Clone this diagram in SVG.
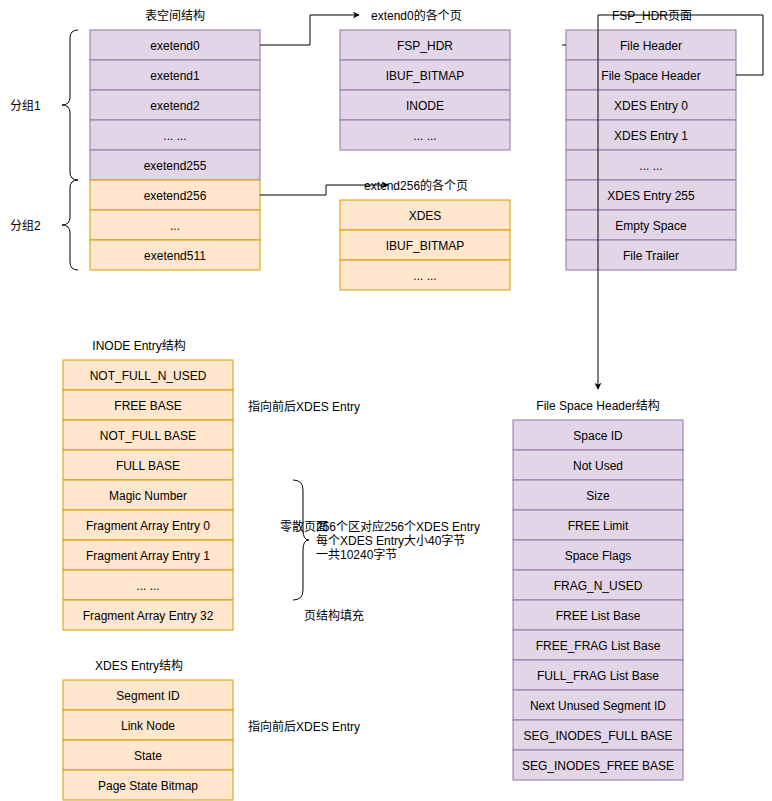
<svg xmlns="http://www.w3.org/2000/svg" width="772" height="801" viewBox="0 0 772 801">
<defs>
<marker id="arr" viewBox="0 0 10 10" refX="9" refY="5" markerWidth="7" markerHeight="7" markerUnits="userSpaceOnUse" orient="auto">
<path d="M0,0 L10,5 L0,10 L3,5 Z" fill="#000"/>
</marker>
<style>
text{font-family:"Liberation Sans",Arial,"Noto Sans CJK SC",sans-serif;font-size:12px;fill:#000}
.c{text-anchor:middle}
.p{fill:#e1d5e7;stroke:#9673a6;stroke-width:1}
.o{fill:#ffe6cc;stroke:#d79b00;stroke-width:1}
.ln{fill:none;stroke:#000;stroke-width:1}
</style>
</defs>
<rect width="772" height="801" fill="#fff"/>

<g id="tablespace">
<text class="c" x="175" y="20">表空间结构</text>
<rect class="p" x="90" y="30" width="170" height="30"/><text class="c" x="175" y="50">exetend0</text>
<rect class="p" x="90" y="60" width="170" height="30"/><text class="c" x="175" y="80">exetend1</text>
<rect class="p" x="90" y="90" width="170" height="30"/><text class="c" x="175" y="110">exetend2</text>
<rect class="p" x="90" y="120" width="170" height="30"/><text class="c" x="175" y="140">... ...</text>
<rect class="p" x="90" y="150" width="170" height="30"/><text class="c" x="175" y="170">exetend255</text>
<rect class="o" x="90" y="180" width="170" height="30"/><text class="c" x="175" y="200">exetend256</text>
<rect class="o" x="90" y="210" width="170" height="30"/><text class="c" x="175" y="230">...</text>
<rect class="o" x="90" y="240" width="170" height="30"/><text class="c" x="175" y="260">exetend511</text>
</g>

<g id="groups">
<path class="ln" d="M78,30 Q70,30 70,38 L70,97 Q70,105 62,105 Q70,105 70,113 L70,172 Q70,180 78,180"/>
<text x="10" y="110">分组1</text>
<path class="ln" d="M78,180 Q70,180 70,188 L70,217 Q70,225 62,225 Q70,225 70,233 L70,262 Q70,270 78,270"/>
<text x="10" y="230">分组2</text>
</g>

<g id="extend0">
<text x="371" y="20">extend0的各个页</text>
<rect class="p" x="340" y="30" width="170" height="30"/><text class="c" x="425" y="50">FSP_HDR</text>
<rect class="p" x="340" y="60" width="170" height="30"/><text class="c" x="425" y="80">IBUF_BITMAP</text>
<rect class="p" x="340" y="90" width="170" height="30"/><text class="c" x="425" y="110">INODE</text>
<rect class="p" x="340" y="120" width="170" height="30"/><text class="c" x="425" y="140">... ...</text>
</g>

<g id="extend256">
<rect class="o" x="340" y="200" width="170" height="30"/><text class="c" x="425" y="220">XDES</text>
<rect class="o" x="340" y="230" width="170" height="30"/><text class="c" x="425" y="250">IBUF_BITMAP</text>
<rect class="o" x="340" y="260" width="170" height="30"/><text class="c" x="425" y="280">... ...</text>
</g>

<g id="fsphdr">
<rect class="p" x="566" y="30" width="170" height="30"/><text class="c" x="651" y="50">File Header</text>
<rect class="p" x="566" y="60" width="170" height="30"/><text class="c" x="651" y="80">File Space Header</text>
<rect class="p" x="566" y="90" width="170" height="30"/><text class="c" x="651" y="110">XDES Entry 0</text>
<rect class="p" x="566" y="120" width="170" height="30"/><text class="c" x="651" y="140">XDES Entry 1</text>
<rect class="p" x="566" y="150" width="170" height="30"/><text class="c" x="651" y="170">... ...</text>
<rect class="p" x="566" y="180" width="170" height="30"/><text class="c" x="651" y="200">XDES Entry 255</text>
<rect class="p" x="566" y="210" width="170" height="30"/><text class="c" x="651" y="230">Empty Space</text>
<rect class="p" x="566" y="240" width="170" height="30"/><text class="c" x="651" y="260">File Trailer</text>
</g>

<g id="connectors">
<polyline class="ln" points="260,45 310,45 310,15 359,15" marker-end="url(#arr)"/>
<polyline class="ln" points="260,195 326,195 326,185 388,185" marker-end="url(#arr)"/>
<polyline class="ln" points="736,75 763,75 763,15 598,15 598,389" marker-end="url(#arr)"/>
<line class="ln" x1="562" y1="45" x2="566" y2="45"/>
</g>

<g id="labels-top">
<text class="c" x="652" y="20">FSP_HDR页面</text>
<text x="364" y="190">extend256的各个页</text>
</g>

<g id="inode">
<text class="c" x="139" y="350">INODE Entry结构</text>
<rect class="o" x="63" y="360" width="170" height="30"/><text class="c" x="148" y="380">NOT_FULL_N_USED</text>
<rect class="o" x="63" y="390" width="170" height="30"/><text class="c" x="148" y="410">FREE BASE</text>
<rect class="o" x="63" y="420" width="170" height="30"/><text class="c" x="148" y="440">NOT_FULL BASE</text>
<rect class="o" x="63" y="450" width="170" height="30"/><text class="c" x="148" y="470">FULL BASE</text>
<rect class="o" x="63" y="480" width="170" height="30"/><text class="c" x="148" y="500">Magic Number</text>
<rect class="o" x="63" y="510" width="170" height="30"/><text class="c" x="148" y="530">Fragment Array Entry 0</text>
<rect class="o" x="63" y="540" width="170" height="30"/><text class="c" x="148" y="560">Fragment Array Entry 1</text>
<rect class="o" x="63" y="570" width="170" height="30"/><text class="c" x="148" y="590">... ...</text>
<rect class="o" x="63" y="600" width="170" height="30"/><text class="c" x="148" y="620">Fragment Array Entry 32</text>
<text x="248" y="411">指向前后XDES Entry</text>
</g>

<g id="fragment-note">
<path class="ln" d="M293,480 Q303,480 303,490 L303,530 Q303,540 309,540 Q303,540 303,550 L303,590 Q303,600 293,600"/>
<text x="280" y="531">零散页面</text>
<text x="316" y="531">256个区对应256个XDES Entry</text>
<text x="316" y="545">每个XDES Entry大小40字节</text>
<text x="316" y="559">一共10240字节</text>
<text x="304" y="620">页结构填充</text>
</g>

<g id="xdes">
<text class="c" x="139" y="670">XDES Entry结构</text>
<rect class="o" x="63" y="680" width="170" height="30"/><text class="c" x="148" y="700">Segment ID</text>
<rect class="o" x="63" y="710" width="170" height="30"/><text class="c" x="148" y="730">Link Node</text>
<rect class="o" x="63" y="740" width="170" height="30"/><text class="c" x="148" y="760">State</text>
<rect class="o" x="63" y="770" width="170" height="30"/><text class="c" x="148" y="790">Page State Bitmap</text>
<text x="248" y="731">指向前后XDES Entry</text>
</g>

<g id="fsh">
<text class="c" x="598" y="410">File Space Header结构</text>
<rect class="p" x="513" y="420" width="170" height="30"/><text class="c" x="598" y="440">Space ID</text>
<rect class="p" x="513" y="450" width="170" height="30"/><text class="c" x="598" y="470">Not Used</text>
<rect class="p" x="513" y="480" width="170" height="30"/><text class="c" x="598" y="500">Size</text>
<rect class="p" x="513" y="510" width="170" height="30"/><text class="c" x="598" y="530">FREE Limit</text>
<rect class="p" x="513" y="540" width="170" height="30"/><text class="c" x="598" y="560">Space Flags</text>
<rect class="p" x="513" y="570" width="170" height="30"/><text class="c" x="598" y="590">FRAG_N_USED</text>
<rect class="p" x="513" y="600" width="170" height="30"/><text class="c" x="598" y="620">FREE List Base</text>
<rect class="p" x="513" y="630" width="170" height="30"/><text class="c" x="598" y="650">FREE_FRAG List Base</text>
<rect class="p" x="513" y="660" width="170" height="30"/><text class="c" x="598" y="680">FULL_FRAG List Base</text>
<rect class="p" x="513" y="690" width="170" height="30"/><text class="c" x="598" y="710">Next Unused Segment ID</text>
<rect class="p" x="513" y="720" width="170" height="30"/><text class="c" x="598" y="740">SEG_INODES_FULL BASE</text>
<rect class="p" x="513" y="750" width="170" height="30"/><text class="c" x="598" y="770">SEG_INODES_FREE BASE</text>
</g>
</svg>
